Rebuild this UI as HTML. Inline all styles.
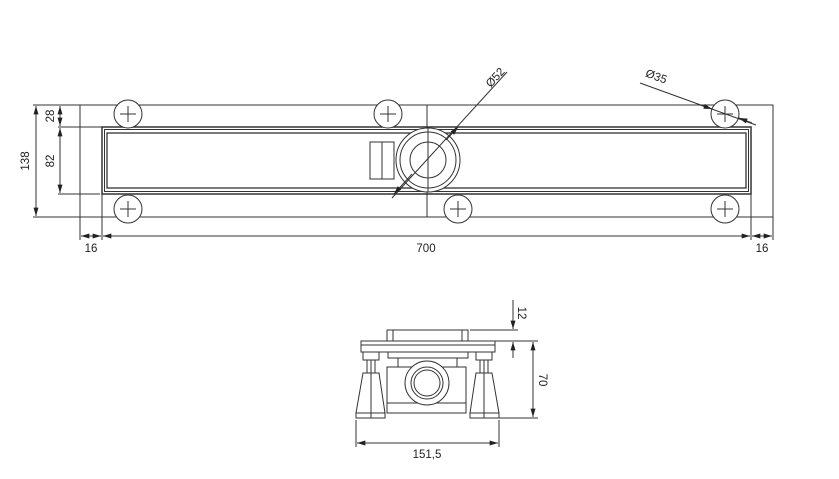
<!DOCTYPE html><html><head><style>body{margin:0;background:#fff}svg{display:block}text{font-family:"Liberation Sans",sans-serif;font-size:11.5px;fill:#222}</style></head><body>
<svg width="839" height="479" viewBox="0 0 839 479" xmlns="http://www.w3.org/2000/svg">
<defs><marker id="a" viewBox="0 0 10 6" refX="10" refY="3" markerWidth="9" markerHeight="5" orient="auto-start-reverse"><path d="M0,0L10,3L0,6z" fill="#222"/></marker></defs>
<g stroke="#333" fill="none" stroke-width="1">
<rect x="80" y="105" width="693" height="112"/>
<line x1="427" y1="105" x2="427" y2="217"/>
<rect x="102" y="127" width="649" height="67" stroke-width="1.5"/>
<rect x="104.5" y="129.5" width="644" height="62"/>
<rect x="107" y="133" width="639" height="55" stroke-width="1.3"/>
<g fill="#fff"><rect x="370" y="142" width="24" height="37"/></g>
<line x1="382" y1="142" x2="382" y2="179"/>
<circle cx="428" cy="160" r="32" fill="#fff"/><circle cx="428" cy="160" r="28"/><circle cx="428" cy="160" r="18"/>
<line x1="428" y1="128" x2="428" y2="192"/>
<line x1="392" y1="198" x2="507" y2="72"/>
</g>
<g stroke="#333" fill="none">
<g transform="translate(128,114)"><circle r="14" fill="#fff"/><path d="M-8 0H8M0-8V8"/></g>
<g transform="translate(388,114)"><circle r="14" fill="#fff"/><path d="M-8 0H8M0-8V8"/></g>
<g transform="translate(128,209)"><circle r="14" fill="#fff"/><path d="M-8 0H8M0-8V8"/></g>
<g transform="translate(458,209)"><circle r="14" fill="#fff"/><path d="M-8 0H8M0-8V8"/></g>
<g transform="translate(725,114)"><circle r="14" fill="#fff"/><path d="M-8 0H8M0-8V8"/></g>
<g transform="translate(725,209)"><circle r="14" fill="#fff"/><path d="M-8 0H8M0-8V8"/></g>
<line x1="640" y1="83" x2="756" y2="125"/>
<line x1="412" y1="174" x2="394" y2="194" marker-end="url(#a)"/>
<line x1="446" y1="140" x2="458" y2="127" marker-end="url(#a)"/>
<line x1="700" y1="105" x2="712" y2="109" marker-end="url(#a)"/>
<line x1="752" y1="123" x2="739" y2="118" marker-end="url(#a)"/>
<path d="M33 105H80M33 217H80M58 127H102M58 194H100"/>
<line x1="36" y1="106" x2="36" y2="216" marker-start="url(#a)" marker-end="url(#a)"/>
<line x1="60" y1="106" x2="60" y2="126" marker-start="url(#a)" marker-end="url(#a)"/>
<line x1="60" y1="128" x2="60" y2="193" marker-start="url(#a)" marker-end="url(#a)"/>
<path d="M80 217V240M102 194V240M751 194V240M773 217V240"/>
<line x1="81" y1="236" x2="101" y2="236" marker-start="url(#a)" marker-end="url(#a)"/>
<line x1="103" y1="236" x2="750" y2="236" marker-start="url(#a)" marker-end="url(#a)"/>
<line x1="752" y1="236" x2="772" y2="236" marker-start="url(#a)" marker-end="url(#a)"/>
</g>
<text x="91" y="252" text-anchor="middle">16</text>
<text x="426" y="252" text-anchor="middle">700</text>
<text x="762" y="252" text-anchor="middle">16</text>
<text transform="translate(29,161) rotate(-90)" text-anchor="middle">138</text>
<text transform="translate(54,116) rotate(-90)" text-anchor="middle">28</text>
<text transform="translate(54,161) rotate(-90)" text-anchor="middle">82</text>
<text transform="translate(498,80) rotate(-47)" text-anchor="middle">Ø52</text>
<text transform="translate(655,80) rotate(20)" text-anchor="middle">Ø35</text>
<g stroke="#333" fill="#fff">
<rect x="387" y="330" width="81" height="13"/>
<path d="M393 330V343M462 330V343" fill="none"/>
<rect x="361" y="341" width="134" height="11"/>
<line x1="361" y1="345" x2="495" y2="345"/>
<rect x="388" y="352" width="80" height="6"/>
<rect x="398" y="358" width="59" height="9"/>
<rect x="387" y="367" width="79" height="46"/>
<line x1="387" y1="403" x2="466" y2="403"/>
<circle cx="427" cy="383" r="22"/><circle cx="427" cy="383" r="16"/><circle cx="427" cy="383" r="13"/>
<rect x="363" y="352" width="16" height="8"/>
<rect x="367" y="360" width="8" height="13"/>
<path d="M363 373H379L385 413H356Z"/>
<rect x="356" y="413" width="29" height="5"/>
<line x1="371" y1="360" x2="371" y2="418"/>
<rect x="476" y="352" width="16" height="8"/>
<rect x="480" y="360" width="8" height="13"/>
<path d="M476 373H492L499 413H470Z"/>
<rect x="470" y="413" width="29" height="5"/>
<line x1="484" y1="360" x2="484" y2="418"/>
</g>
<g stroke="#333" fill="none">
<path d="M470 330H518M495 341H538M499 418H538M356 420V447M499 420V447"/>
<line x1="513" y1="300" x2="513" y2="329" marker-end="url(#a)"/>
<line x1="513" y1="358" x2="513" y2="342" marker-end="url(#a)"/>
<line x1="533" y1="342" x2="533" y2="417" marker-start="url(#a)" marker-end="url(#a)"/>
<line x1="357" y1="443" x2="498" y2="443" marker-start="url(#a)" marker-end="url(#a)"/>
</g>
<text transform="translate(518,313) rotate(90)" text-anchor="middle">12</text>
<text transform="translate(539,380) rotate(90)" text-anchor="middle">70</text>
<text x="427" y="458" text-anchor="middle">151,5</text>
</svg></body></html>
